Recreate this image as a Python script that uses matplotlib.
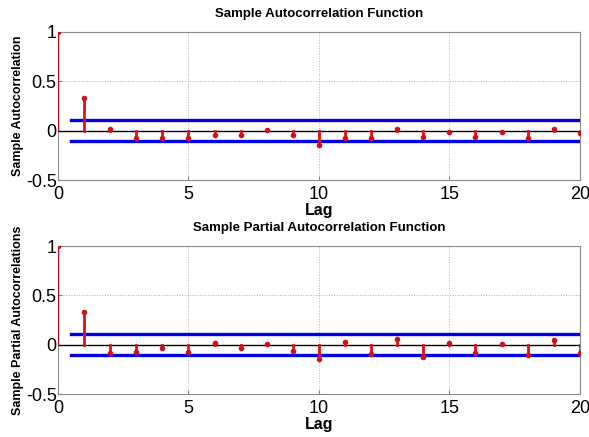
import matplotlib
matplotlib.use('Agg')
import matplotlib.pyplot as plt
import numpy as np

lags = np.arange(0, 21)
acf = [1.0, 0.33, 0.02, -0.075, -0.07, -0.075, -0.04, -0.04, 0.005, -0.045, -0.15,
       -0.075, -0.075, 0.015, -0.06, -0.015, -0.06, -0.015, -0.075, 0.02, -0.02]
pacf = [1.0, 0.33, -0.085, -0.07, -0.03, -0.07, 0.015, -0.035, 0.01, -0.06, -0.14,
        0.025, -0.095, 0.06, -0.12, 0.02, -0.085, 0.007, -0.1, 0.05, -0.085]
bound = 0.105

titles = ['Sample Autocorrelation Function', 'Sample Partial Autocorrelation Function']
ylabels = ['Sample Autocorrelation', 'Sample Partial Autocorrelations']

plt.rcParams['font.family'] = ['Liberation Sans', 'DejaVu Sans']

fig = plt.figure(figsize=(5.89, 4.37), dpi=100)
axes = [fig.add_axes([0.0985, 0.588, 0.886, 0.339]),
        fig.add_axes([0.0985, 0.098, 0.886, 0.339])]

for ax, vals, title, ylab in zip(axes, [acf, pacf], titles, ylabels):
    ax.plot([0, 20], [0, 0], color='black', lw=1.0, zorder=2)
    ax.plot([0.5, 20], [bound, bound], color='#0000e6', lw=2.4, zorder=3)
    ax.plot([0.5, 20], [-bound, -bound], color='#0000e6', lw=2.4, zorder=3)
    for lag, v in zip(lags, vals):
        if lag == 0:
            ax.plot([lag, lag], [0, v], color='#a01020', lw=1.0, zorder=4)
        else:
            ax.plot([lag, lag], [0, v], color='#e0101a', lw=2.0, zorder=4)
    ax.plot(lags, vals, 'o', color='#d0101a', ms=3, zorder=5)
    ax.set_xlim(0, 20)
    ax.set_ylim(-0.5, 1)
    ax.set_xticks([0, 5, 10, 15, 20])
    ax.set_yticks([-0.5, 0, 0.5, 1])
    ax.set_yticklabels(['-0.5', '0', '0.5', '1'])
    ax.grid(True, linestyle=':', color='#b0b0b0', lw=0.7)
    ax.tick_params(labelsize=13, length=3, color='#808080', direction='in')
    ax.tick_params(axis='x', pad=4)
    ax.tick_params(axis='y', pad=1)
    for s in ax.spines.values():
        s.set_color('#8c8c8c')
    ax.set_title(title, fontsize=9.5, fontweight='bold', pad=11)
    ax.set_xlabel('Lag', fontsize=11.5, fontweight='bold', labelpad=0)
    ax.set_ylabel(ylab, fontsize=9, fontweight='bold', labelpad=1)

fig.savefig('out.png', dpi=100)
